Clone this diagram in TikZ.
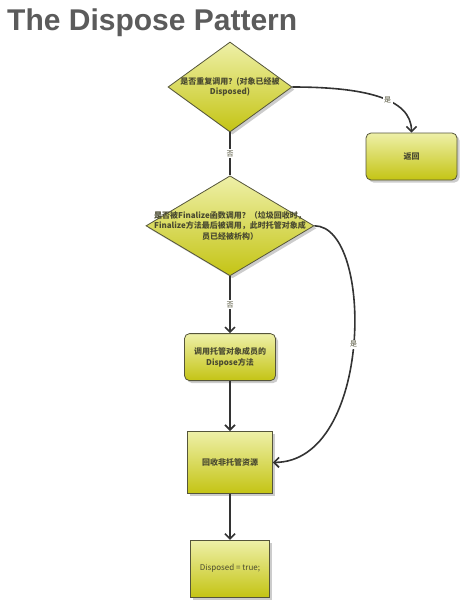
\documentclass[tikz,border=0pt]{standalone}
\usepackage{fontspec}
\setmainfont{Liberation Sans}
\newfontfamily\cjk{Noto Sans CJK SC}
\usetikzlibrary{positioning,shapes.geometric,shadows,arrows.meta}
\definecolor{boxtop}{HTML}{EEF0A8}
\definecolor{boxbot}{HTML}{C4C414}
\definecolor{edgegray}{HTML}{55553A}
\definecolor{txt}{HTML}{4A4A30}
\definecolor{ttl}{HTML}{5B5B5B}
\definecolor{wire}{HTML}{333333}

\begin{document}
\begin{tikzpicture}[x=1pt,y=-1pt,
  every node/.append style={font=\cjk\bfseries\fontsize{8}{10.5}\selectfont, text=txt},
  blk/.style={draw=edgegray, line width=0.8pt, top color=boxtop, bottom color=boxbot,
    drop shadow={shadow xshift=2.5pt,shadow yshift=-2.5pt,fill=black!40},
    align=center, inner sep=0pt},
  dec/.style={blk, diamond},
  lbl/.style={fill=white, inner sep=1.5pt, font=\cjk\fontsize{7}{8}\selectfont},
  link/.style={draw=wire, line width=1.6pt},
  flow/.style={link, -{Straight Barb[length=5pt,width=10pt]}}]
\useasboundingbox (0,0) rectangle (474,614);
\node[anchor=base west, inner sep=0pt, text=ttl,
  font=\rmfamily\bfseries\fontsize{30}{36}\selectfont] (title) at (7,30) {The Dispose Pattern};

\node[dec, minimum width=124pt, minimum height=90pt,
  label={[align=center]center:{是否重复调用？(对象已经被\\Disposed)}}] (d1) at (230,87) {};
\node[dec, minimum width=168pt, minimum height=100pt, below=43pt of d1,
  label={[align=center]center:{是否被Finalize函数调用？（垃圾回收时，\\Finalize方法最后被调用，此时托管对象成\\员已经被析构）}}] (d2) {};
\node[blk, rounded corners=5pt, minimum width=91pt, minimum height=47pt] (ret) at (411.5,156.5) {返回};
\node[blk, rounded corners=5pt, minimum width=91pt, minimum height=47pt, below=57pt of d2] (call) {调用托管对象成员的\\Dispose方法};
\node[blk, minimum width=85pt, minimum height=62pt, below=50pt of call] (free) {回收非托管资源};
\node[blk, minimum width=79pt, minimum height=57pt, below=46pt of free,
  font=\cjk\fontsize{8}{10}\selectfont] (done) {Disposed = true;};

\draw[link] (d1) -- node[lbl] {否} (d2);
\draw[flow] (d1.east) .. controls +(70,0) and +(0,-35) .. node[lbl, pos=0.58] {是} (ret.north);
\draw[flow] (d2) -- node[lbl] {否} (call);
\draw[flow] (d2.east) .. controls +(60,0) and +(100,0) .. node[lbl] {是} (free.east);
\draw[flow] (call) -- (free);
\draw[flow] (free) -- (done);
\end{tikzpicture}
\end{document}
